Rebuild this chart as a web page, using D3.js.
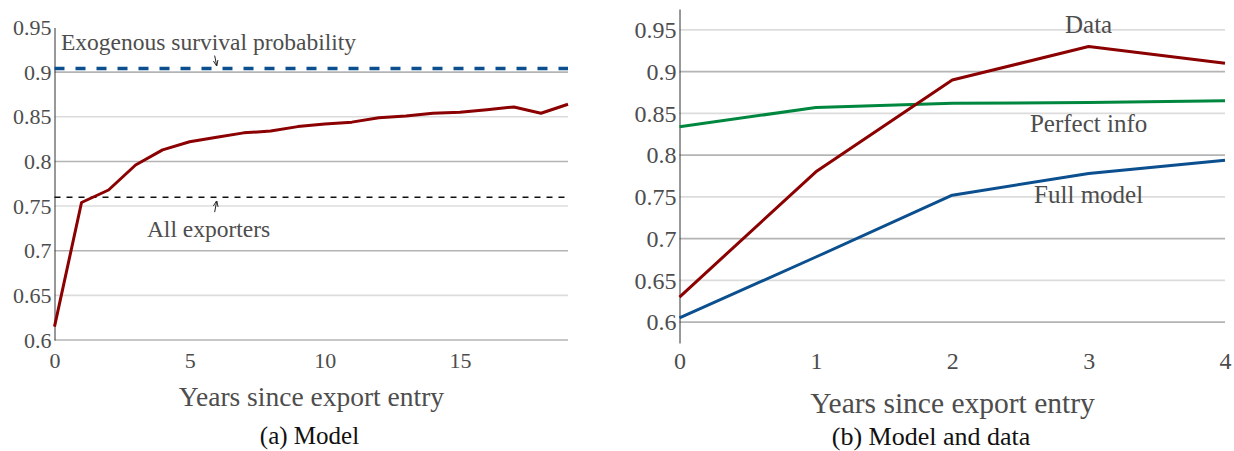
<!DOCTYPE html>
<html>
<head>
<meta charset="utf-8">
<script src="https://cdn.jsdelivr.net/npm/d3@7"></script>
<style>
  body { margin: 0; background: #fff; }
  svg { display: block; font-family: "Liberation Serif", "Times New Roman", serif; }
</style>
</head>
<body>
<svg id="chart" width="1234" height="451"></svg>
<script>
// (a) Model
const yearsA = d3.range(0, 20);
const modelA = [0.615, 0.754, 0.768, 0.796, 0.813, 0.822, 0.827, 0.832, 0.834, 0.839,
                0.842, 0.844, 0.849, 0.851, 0.854, 0.855, 0.858, 0.861, 0.854, 0.864];
const exogenous = 0.904;
const allExporters = 0.76;
const ticksA = [0.6, 0.65, 0.7, 0.75, 0.8, 0.85, 0.9, 0.95];
const xTicksA = [0, 5, 10, 15];

// (b) Model and data
const yearsB = [0, 1, 2, 3, 4];
const dataB = [0.63, 0.78, 0.89, 0.93, 0.91];
const perfectInfo = [0.834, 0.857, 0.862, 0.863, 0.865];
const fullModel = [0.605, 0.678, 0.752, 0.778, 0.794];
const ticksB = [0.6, 0.65, 0.7, 0.75, 0.8, 0.85, 0.9, 0.95];

const red = "#8b0000", blue = "#0b4f8f", green = "#00873f", grey = "#4d4d4d";
const serif = "Liberation Serif, Times New Roman, serif";

const svg = d3.select("#chart");

svg.append("defs").append("marker")
    .attr("id", "arrow")
    .attr("viewBox", "0 0 10 10")
    .attr("refX", 9).attr("refY", 5)
    .attr("markerWidth", 6).attr("markerHeight", 6)
    .attr("orient", "auto-start-reverse")
  .append("path")
    .attr("d", "M0,1 L10,5 L0,9")
    .attr("fill", "none")
    .attr("stroke", "#222")
    .attr("stroke-width", 1.5);

function gridColor(v) {
  // alternate darker / lighter grid lines
  return Math.round(v * 100) % 10 === 0 ? "#b4b4b4" : "#dcdcdc";
}

function styleAxis(g, size) {
  g.attr("font-family", serif).attr("font-size", size);
  g.selectAll(".tick text").attr("fill", grey);
}

// ---------- panel (a)
{
  const x = d3.scaleLinear([0, 19], [54.5, 568]);
  const y = d3.scaleLinear([0.6, 0.95], [340, 27.5]);

  const g = svg.append("g");

  g.append("g").selectAll("line")
    .data(ticksA.filter(d => d < 0.94))
    .join("line")
      .attr("x1", x(0)).attr("x2", x(19))
      .attr("y1", d => y(d)).attr("y2", d => y(d))
      .attr("stroke", gridColor)
      .attr("stroke-width", 1.6);

  g.append("g")
      .attr("transform", `translate(${x(0)},0)`)
      .call(d3.axisLeft(y).tickValues(ticksA).tickSize(0).tickPadding(3).tickFormat(d3.format("~g")))
      .call(styleAxis, 22)
      .call(g => g.select(".domain").attr("stroke", "#333"));

  g.append("g")
      .attr("transform", `translate(0,${y(0.6)})`)
      .call(d3.axisBottom(x).tickValues(xTicksA).tickSize(0).tickPadding(12))
      .call(styleAxis, 22)
      .call(g => g.select(".domain").remove());

  // reference lines
  g.append("line")
      .attr("x1", x(0)).attr("x2", x(19))
      .attr("y1", y(exogenous)).attr("y2", y(exogenous))
      .attr("stroke", blue).attr("stroke-width", 3.5)
      .attr("stroke-dasharray", "10,11");
  g.append("line")
      .attr("x1", x(0)).attr("x2", x(19))
      .attr("y1", y(allExporters)).attr("y2", y(allExporters))
      .attr("stroke", "#111").attr("stroke-width", 1.5)
      .attr("stroke-dasharray", "6,6");

  g.append("path")
      .datum(yearsA)
      .attr("fill", "none")
      .attr("stroke", red)
      .attr("stroke-width", 3)
      .attr("stroke-linejoin", "round")
      .attr("d", d3.line().x(i => x(i)).y(i => y(modelA[i])));

  // annotations
  g.append("text")
      .attr("x", 61).attr("y", y(exogenous) - 19)
      .attr("fill", grey).style("font-size", "23.5px")
      .text("Exogenous survival probability");
  g.append("line")
      .attr("x1", x(6) - 2).attr("y1", y(exogenous) - 13)
      .attr("x2", x(6)).attr("y2", y(exogenous) - 3)
      .attr("stroke", "#222").attr("stroke-width", 1)
      .attr("marker-end", "url(#arrow)");

  g.append("text")
      .attr("x", x(5.7)).attr("y", y(allExporters) + 40)
      .attr("text-anchor", "middle")
      .attr("fill", grey).style("font-size", "23.5px")
      .text("All exporters");
  g.append("line")
      .attr("x1", x(6) - 2).attr("y1", y(allExporters) + 15)
      .attr("x2", x(6)).attr("y2", y(allExporters) + 4)
      .attr("stroke", "#222").attr("stroke-width", 1)
      .attr("marker-end", "url(#arrow)");

  g.append("text")
      .attr("x", 311.5).attr("y", 406)
      .attr("text-anchor", "middle")
      .attr("fill", grey).style("font-size", "27.5px")
      .text("Years since export entry");
  g.append("text")
      .attr("x", 309.5).attr("y", 444)
      .attr("text-anchor", "middle")
      .attr("fill", "#111").style("font-size", "25px")
      .text("(a) Model");
}

// ---------- panel (b)
{
  const x = d3.scaleLinear([0, 4], [679.5, 1225]);
  const y = d3.scaleLinear([0.575, 0.975], [343, 9]);

  const g = svg.append("g");

  g.append("g").selectAll("line")
    .data(ticksB)
    .join("line")
      .attr("x1", x(0)).attr("x2", x(4))
      .attr("y1", d => y(d)).attr("y2", d => y(d))
      .attr("stroke", gridColor)
      .attr("stroke-width", 1.6);

  g.append("g")
      .attr("transform", `translate(${x(0)},0)`)
      .call(d3.axisLeft(y).tickValues(ticksB).tickSize(0).tickPadding(3).tickFormat(d3.format("~g")))
      .call(styleAxis, 24)
      .call(g => g.select(".domain").attr("stroke", "#333"));

  g.append("g")
      .attr("transform", `translate(0,${y(0.575)})`)
      .call(d3.axisBottom(x).tickValues(yearsB).tickSize(0).tickPadding(9).tickFormat(d3.format("d")))
      .call(styleAxis, 24)
      .call(g => g.select(".domain").remove());

  const series = [
    {name: "Perfect info", values: perfectInfo, color: green, dy: 29.5},
    {name: "Full model", values: fullModel, color: blue, dy: 29.5},
    {name: "Data", values: dataB, color: red, dy: -14}
  ];

  g.append("g").selectAll("path")
    .data(series)
    .join("path")
      .attr("fill", "none")
      .attr("stroke", d => d.color)
      .attr("stroke-width", 3)
      .attr("stroke-linejoin", "round")
      .attr("d", d => d3.line().x((v, i) => x(yearsB[i])).y(v => y(v))(d.values));

  g.append("g").selectAll("text")
    .data(series)
    .join("text")
      .attr("x", x(3))
      .attr("y", d => y(d.values[3]) + d.dy)
      .attr("text-anchor", "middle")
      .attr("fill", grey).style("font-size", "25px")
      .text(d => d.name);

  g.append("text")
      .attr("x", 952.5).attr("y", 413)
      .attr("text-anchor", "middle")
      .attr("fill", grey).style("font-size", "29.5px")
      .text("Years since export entry");
  g.append("text")
      .attr("x", 931).attr("y", 445)
      .attr("text-anchor", "middle")
      .attr("fill", "#111").style("font-size", "26px")
      .text("(b) Model and data");
}
</script>
</body>
</html>
